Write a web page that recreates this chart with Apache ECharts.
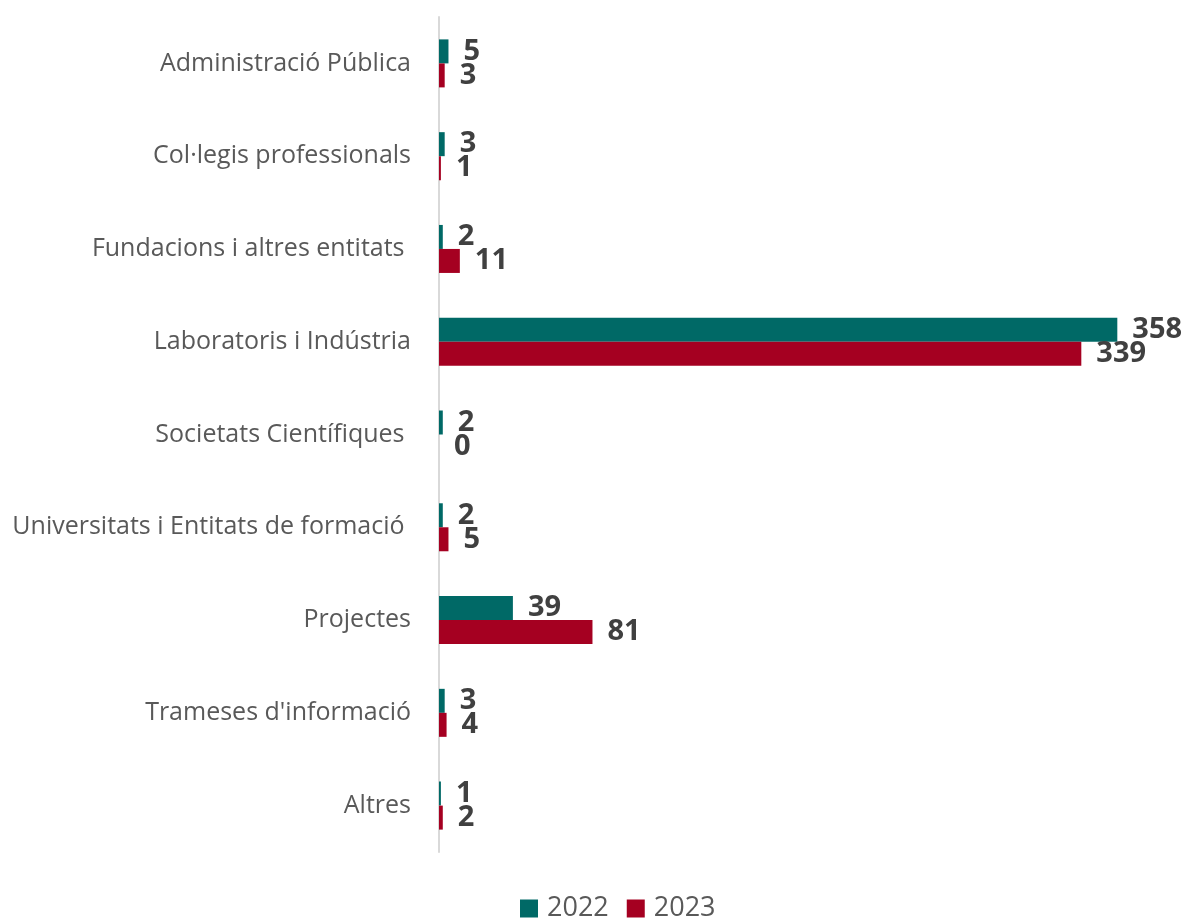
<!DOCTYPE html>
<html><head><meta charset="utf-8">
<script src="https://cdn.jsdelivr.net/npm/echarts@6/dist/echarts.min.js"></script>
<style>html,body{margin:0;padding:0;background:#fff}#c{width:1185px;height:918px}</style>
</head><body><div id="c"></div>
<script>
const categories = ["Administració Pública","Col·legis professionals","Fundacions i altres entitats ","Laboratoris i Indústria","Societats Científiques ","Universitats i Entitats de formació ","Projectes","Trameses d'informació","Altres"];
const values2022 = [5,3,2,358,2,2,39,3,1];
const values2023 = [3,1,11,339,0,5,81,4,2];
const seriesNames = ["2022","2023"];

const chart = echarts.init(document.getElementById('c'));
const labelStyle = {show:true, position:'right', distance:15, color:'#404040', fontSize:29, fontWeight:'bold', fontFamily:'Open Sans'};
chart.setOption({
  animation:false,
  textStyle:{fontFamily:'Open Sans'},
  grid:{left:439, top:17, bottom:66, width:720},
  xAxis:{type:'value', min:0, max:380, show:false},
  yAxis:{type:'category', data:categories, inverse:true,
    axisLine:{show:true, lineStyle:{color:'#d9d9d9', width:2}},
    axisTick:{show:false},
    axisLabel:{color:'#595959', fontSize:25, margin:28, fontFamily:'Open Sans'}},
  legend:{bottom:-9, left:515, itemWidth:18, itemHeight:18, itemGap:18,
    icon:'rect',
    textStyle:{color:'#595959', fontSize:27, fontFamily:'Open Sans', padding:[0,0,0,4]},
    data:seriesNames},
  series:[
    {name:seriesNames[0], type:'bar', data:values2022, itemStyle:{color:'#006966'}, barWidth:24, barGap:'0%', label:labelStyle},
    {name:seriesNames[1], type:'bar', data:values2023, itemStyle:{color:'#A50021'}, barWidth:24, barGap:'0%', label:labelStyle}
  ]
});
</script></body></html>
